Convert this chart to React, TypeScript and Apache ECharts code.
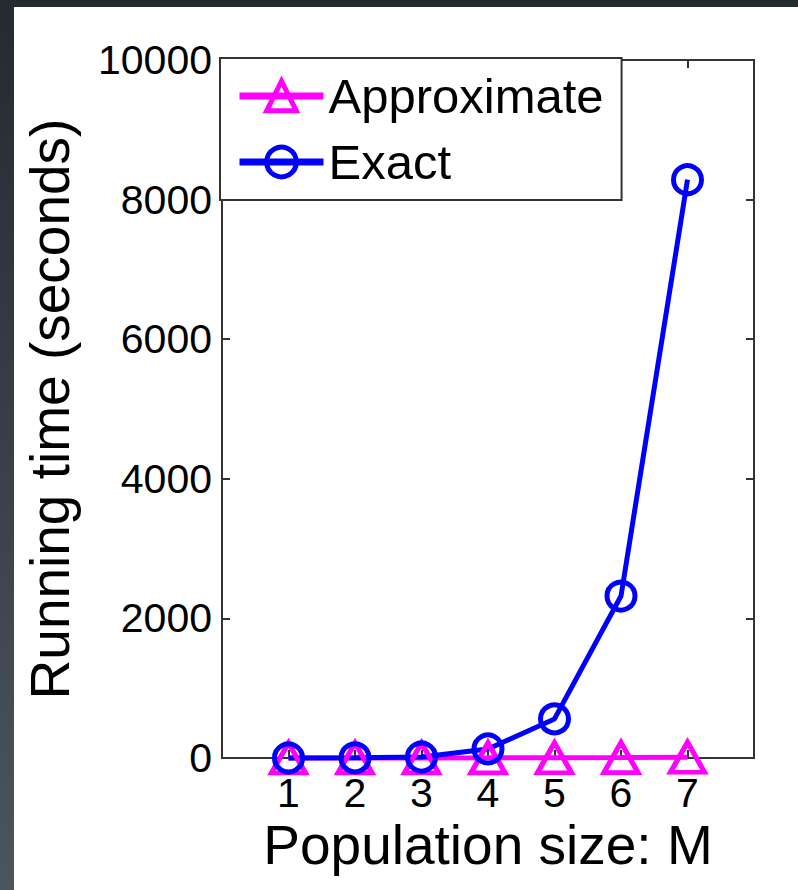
import React, { useEffect, useRef } from 'react';
import * as echarts from 'echarts';

const populationSizes = [1, 2, 3, 4, 5, 6, 7];
const xTickLabels = ['1', '2', '3', '4', '5', '6', '7'];
const approximateTimes = [0.3, 0.5, 1.1, 1.9, 3.4, 6.2, 10.5];
const exactTimes = [0.4, 2, 14, 130, 560, 2320, 8285];
const seriesNames = ['Approximate', 'Exact'];
const yMin = 0;
const yMax = 10000;
const yInterval = 2000;
const xMin = 0;
const xMax = 8;

const FONT = '"Liberation Sans", Arial, Helvetica, sans-serif';

export default function App() {
  const ref = useRef<HTMLDivElement>(null);

  useEffect(() => {
    if (!ref.current) return;
    const chart = echarts.init(ref.current, undefined, { renderer: 'svg' });
    const axisLine = { show: true, onZero: false, lineStyle: { color: '#333', width: 2 } };
    const axisTick = { show: true, inside: true, length: 8, lineStyle: { color: '#333', width: 2 } };
    chart.setOption({
      animation: false,
      backgroundColor: 'transparent',
      grid: { left: 222, top: 60, right: 44, bottom: 132, containLabel: false },
      legend: {
        orient: 'vertical',
        left: 220,
        top: 58,
        padding: [10, 18, 10, 16],
        backgroundColor: '#fff',
        borderColor: '#333',
        borderWidth: 2,
        borderRadius: 0,
        itemWidth: 84,
        itemHeight: 37,
        itemGap: 10,
        selectedMode: false,
        textStyle: { fontSize: 49, fontFamily: FONT, color: '#000', lineHeight: 56 },
        lineStyle: { width: 7 },
        itemStyle: { borderWidth: 5 },
        data: seriesNames,
      },
      xAxis: [
        {
          type: 'value',
          position: 'bottom',
          min: xMin,
          max: xMax,
          interval: 1,
          axisLine,
          axisTick,
          splitLine: { show: false },
          axisLabel: {
            fontSize: 41,
            fontFamily: FONT,
            color: '#000',
            margin: 14,
            formatter: (v: number) => (v >= 1 && v <= 7 ? xTickLabels[v - 1] : ''),
          },
          name: 'Population size: M',
          nameLocation: 'middle',
          nameGap: 54,
          nameTextStyle: { fontSize: 55, fontFamily: FONT, color: '#000' },
        },
        {
          type: 'value',
          position: 'top',
          min: xMin,
          max: xMax,
          interval: 1,
          axisLine,
          axisTick,
          splitLine: { show: false },
          axisLabel: { show: false },
        },
      ],
      yAxis: [
        {
          type: 'value',
          position: 'left',
          min: yMin,
          max: yMax,
          interval: yInterval,
          axisLine,
          axisTick,
          splitLine: { show: false },
          axisLabel: {
            fontSize: 41,
            fontFamily: FONT,
            color: '#000',
            margin: 10,
            formatter: (v: number) => String(v),
          },
          name: 'Running time (seconds)',
          nameLocation: 'middle',
          nameGap: 145,
          nameTextStyle: { fontSize: 55, fontFamily: FONT, color: '#000' },
        },
        {
          type: 'value',
          position: 'right',
          min: yMin,
          max: yMax,
          interval: yInterval,
          axisLine,
          axisTick,
          splitLine: { show: false },
          axisLabel: { show: false },
        },
      ],
      series: [
        {
          name: seriesNames[0],
          type: 'line',
          clip: false,
          data: populationSizes.map((x, i) => [x, approximateTimes[i]]),
          symbol: 'triangle',
          symbolSize: [34, 30],
          lineStyle: { color: '#ff00ff', width: 5 },
          itemStyle: { color: 'rgba(255,255,255,0)', borderColor: '#ff00ff', borderWidth: 5 },
        },
        {
          name: seriesNames[1],
          type: 'line',
          clip: false,
          data: populationSizes.map((x, i) => [x, exactTimes[i]]),
          symbol: 'circle',
          symbolSize: 28,
          lineStyle: { color: '#0000ff', width: 5 },
          itemStyle: { color: 'rgba(255,255,255,0)', borderColor: '#0000ff', borderWidth: 5 },
        },
      ],
    });
    return () => chart.dispose();
  }, []);

  return (
    <div
      style={{
        position: 'fixed',
        left: 0,
        top: 0,
        width: 798,
        height: 890,
        background: 'linear-gradient(#252a31, #4c555d)',
      }}
    >
      <div style={{ position: 'absolute', left: 14, top: 7, right: 0, bottom: 0, background: '#fff' }} />
      <div ref={ref} style={{ position: 'absolute', left: 0, top: 0, width: 798, height: 890 }} />
    </div>
  );
}
